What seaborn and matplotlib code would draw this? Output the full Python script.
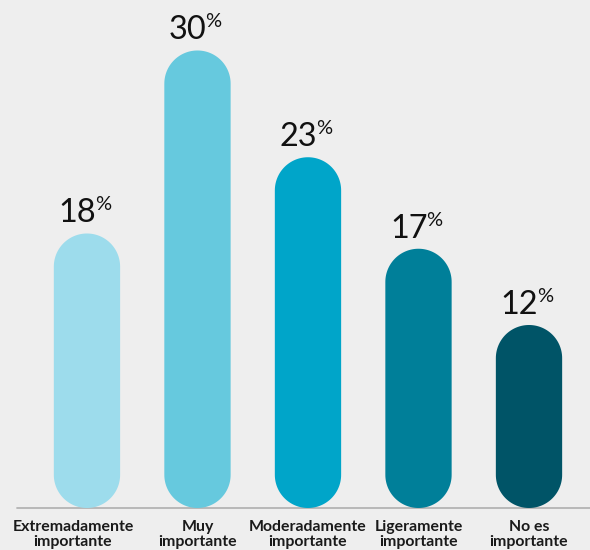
import matplotlib
matplotlib.use("Agg")
import matplotlib.pyplot as plt
import matplotlib.transforms as mtransforms
from matplotlib.patches import Polygon
import numpy as np
import pandas as pd
import seaborn as sns

# Survey answers and their shares (%)
categories = [
    "Extremadamente\nimportante",
    "Muy\nimportante",
    "Moderadamente\nimportante",
    "Ligeramente\nimportante",
    "No es\nimportante",
]
values = [18, 30, 23, 17, 12]
colors = ["#9ddcec", "#66c9de", "#00a5c9", "#007f99", "#005467"]

BG = "#eeeeee"
W_PX, H_PX, DPI = 590, 550, 100
BOTTOM_PX = 42

sns.set_theme(style="white")
plt.rcParams["font.family"] = ["Lato", "DejaVu Sans"]

fig = plt.figure(figsize=(W_PX / DPI, H_PX / DPI), dpi=DPI, facecolor=BG)
ax = fig.add_axes([0, BOTTOM_PX / H_PX, 1, 1 - BOTTOM_PX / H_PX])
ax.set_facecolor(BG)

df = pd.DataFrame({"categoria": categories, "valor": values})
sns.barplot(
    data=df, x="categoria", y="valor", hue="categoria", palette=colors,
    width=0.6, saturation=1, legend=False, ax=ax,
)

ax.set_xlim(-0.787, 4.552)
ax.set_ylim(0, 33.31)

# Turn each rectangular bar into a pill: semicircular caps at both ends
px_per_x = W_PX / (ax.get_xlim()[1] - ax.get_xlim()[0])
px_per_y = (H_PX - BOTTOM_PX) / (ax.get_ylim()[1] - ax.get_ylim()[0])
aspect = px_per_x / px_per_y
t_top = np.linspace(0, np.pi, 60)
t_bot = np.linspace(np.pi, 2 * np.pi, 60)
for p in list(ax.patches):
    x, y, w, h = p.get_x(), p.get_y(), p.get_width(), p.get_height()
    rx = w / 2
    ry = rx * aspect
    cx = x + rx
    top = np.column_stack([cx + rx * np.cos(t_top), y + h - ry + ry * np.sin(t_top)])
    bot = np.column_stack([cx + rx * np.cos(t_bot), y + ry + ry * np.sin(t_bot)])
    pill = Polygon(np.vstack([top, bot]), closed=True,
                   facecolor=p.get_facecolor(), edgecolor="none", zorder=3)
    p.remove()
    ax.add_patch(pill)

# Value labels: large number with a raised, smaller percent sign
for i, v in enumerate(values):
    ax.annotate(str(v), xy=(i, v), xytext=(9, 11), textcoords="offset pixels",
                ha="right", va="baseline", fontsize=23.4, color="#111111")
    ax.annotate("%", xy=(i, v), xytext=(8, 23), textcoords="offset pixels",
                ha="left", va="baseline", fontsize=14.5, color="#111111")

# Baseline
ax.axhline(0, xmin=17 / W_PX, xmax=1, color="#b4b4b4", lw=1.3, zorder=2, clip_on=False)

for s in ax.spines.values():
    s.set_visible(False)
ax.set_yticks([])
ax.set_xlabel("")
ax.set_ylabel("")
ax.tick_params(axis="x", length=0, pad=8.5)
for k, lab in enumerate(ax.get_xticklabels()):
    lab.set_fontsize(11.4)
    lab.set_fontweight("bold")
    lab.set_color("#1a1a1a")
    lab.set_linespacing(1.15)
    if k == 0:
        lab.set_transform(lab.get_transform() + mtransforms.ScaledTranslation(-14 / DPI, 0, fig.dpi_scale_trans))

fig.savefig("out.png", dpi=DPI, facecolor=BG)
